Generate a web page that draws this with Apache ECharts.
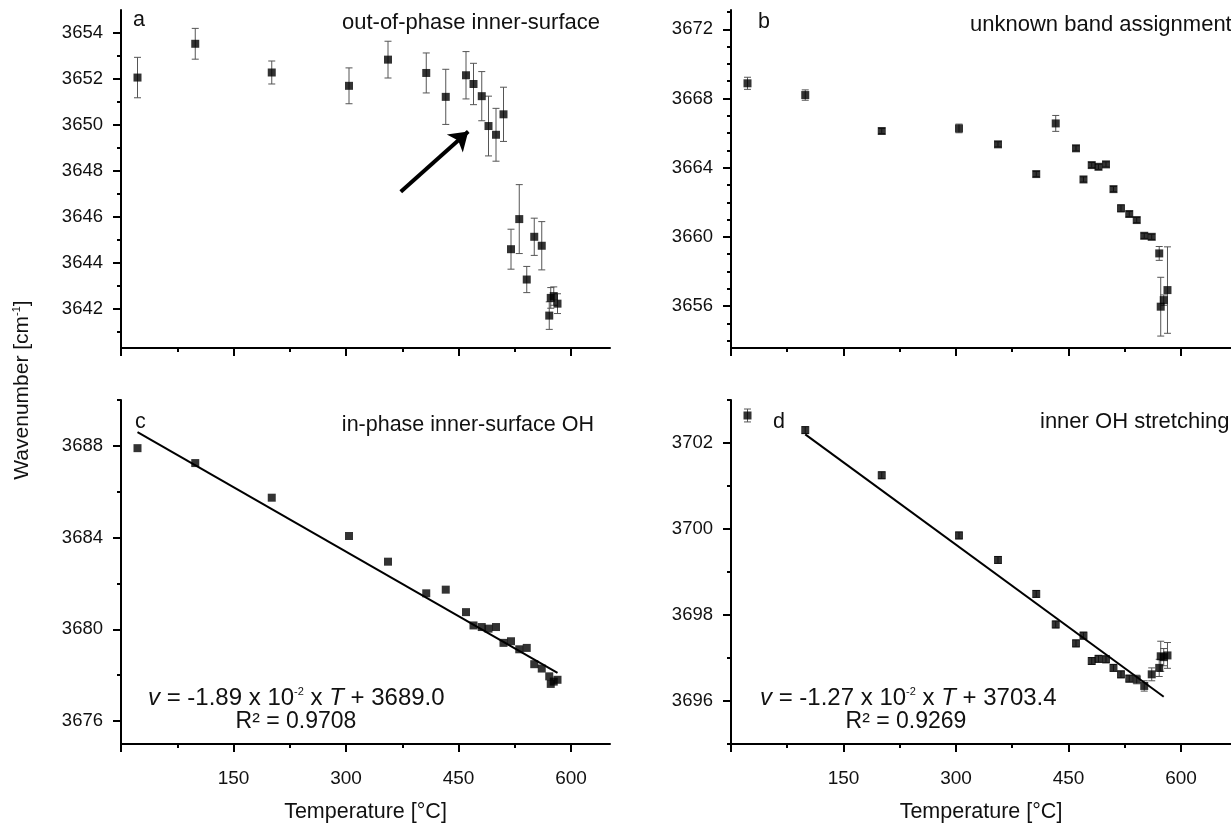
<!DOCTYPE html>
<html><head><meta charset="utf-8">
<script src="https://cdn.jsdelivr.net/npm/echarts@6/dist/echarts.min.js"></script>
<style>html,body{margin:0;padding:0;background:#fff}#c{width:1231px;height:824px}</style>
</head><body><div id="c"></div>
<script>
// ---- data ----
const temps = [22, 99, 201, 304, 356, 407, 433, 460, 470, 481, 490, 500, 510, 520, 531, 541, 551, 561, 571, 573, 577, 582];

const bandA = [3652.05, 3653.52, 3652.27, 3651.69, 3652.83, 3652.25, 3651.21, 3652.15, 3651.77, 3651.24, 3649.94, 3649.56, 3650.45, 3644.58, 3645.89, 3643.26, 3645.12, 3644.73, 3641.69, 3642.46, 3642.54, 3642.21];
const errA  = [0.88, 0.67, 0.5, 0.78, 0.8, 0.87, 1.2, 1.03, 0.9, 1.07, 1.3, 1.15, 1.18, 0.87, 1.5, 0.57, 0.81, 1.05, 0.6, 0.45, 0.4, 0.43];

const bandB = [3668.88, 3668.2, 3666.12, 3666.27, 3665.35, 3663.63, 3666.56, 3665.12, 3663.32, 3664.15, 3664.05, 3664.19, 3662.76, 3661.65, 3661.32, 3660.97, 3660.06, 3660.0, 3659.04, 3655.96, 3656.34, 3656.92];
const errB  = [0.35, 0.3, 0.15, 0.25, 0.15, 0.15, 0.46, 0.15, 0.15, 0.15, 0.15, 0.15, 0.15, 0.2, 0.15, 0.15, 0.15, 0.15, 0.4, 1.7, 0.3, 2.5];

const bandC = [3687.9, 3687.25, 3685.74, 3684.07, 3682.95, 3681.57, 3681.73, 3680.75, 3680.17, 3680.1, 3680.03, 3680.1, 3679.41, 3679.48, 3679.13, 3679.19, 3678.48, 3678.29, 3677.95, 3677.62, 3677.72, 3677.8];
const fitC  = [[22, 3688.6], [582, 3678.1]];

const bandD = [3702.64, 3702.3, 3701.25, 3699.85, 3699.28, 3698.49, 3697.78, 3697.34, 3697.52, 3696.93, 3696.98, 3696.97, 3696.77, 3696.62, 3696.52, 3696.5, 3696.35, 3696.62, 3696.77, 3697.04, 3697.02, 3697.06];
const errD  = [0.15, 0.08, 0.08, 0.08, 0.08, 0.08, 0.08, 0.08, 0.08, 0.08, 0.08, 0.08, 0.08, 0.08, 0.08, 0.1, 0.12, 0.15, 0.2, 0.35, 0.2, 0.3];
const fitD  = [[99, 3702.2], [577, 3696.1]];

const arrowA = [[373, 3647.08], [463, 3649.7]];

const xMajorTicks = [0, 150, 300, 450, 600];
const xMinorTicks = [75, 225, 375, 525];
const xLabels = [150, 300, 450, 600];

const yA = {major: [3642, 3644, 3646, 3648, 3650, 3652, 3654], minor: [3641, 3643, 3645, 3647, 3649, 3651, 3653, 3655]};
const yB = {major: [3656, 3660, 3664, 3668, 3672], minor: [3654, 3655, 3657, 3658, 3659, 3661, 3662, 3663, 3665, 3666, 3667, 3669, 3670, 3671, 3673]};
const yC = {major: [3676, 3680, 3684, 3688], minor: [3678, 3682, 3686, 3690]};
const yD = {major: [3696, 3698, 3700, 3702], minor: [3695, 3697, 3699, 3701, 3703]};

const labels = {
  a: 'out-of-phase inner-surface', b: 'unknown band assignment',
  c: 'in-phase inner-surface OH', d: 'inner OH stretching'
};
// ---- layout ----
const FONT = 'Liberation Sans, Arial, sans-serif';
const grids = [
  {left: 121, top: 10, width: 489, height: 338, xMax: 652, yMin: 3640.28, yMax: 3654.99, ticks: yA, xLab: false},
  {left: 731, top: 10, width: 500, height: 338, xMax: 666.7, yMin: 3653.57, yMax: 3673.12, ticks: yB, xLab: false},
  {left: 121, top: 400, width: 489, height: 346, xMax: 652, yMin: 3675, yMax: 3690, ticks: yC, xLab: true},
  {left: 731, top: 400, width: 500, height: 346, xMax: 666.7, yMin: 3695, yMax: 3703, ticks: yD, xLab: true}
];

const plain = v => String(v);
const xAxis = [], yAxis = [], grid = [];
grids.forEach((g, i) => {
  grid.push({left: g.left, top: g.top, width: g.width, height: g.height, containLabel: false});
  xAxis.push({
    type: 'value', gridIndex: i, position: 'bottom', min: 0, max: g.xMax,
    axisLine: {show: true, onZero: false, lineStyle: {color: '#000', width: 2}},
    axisTick: {show: true, customValues: xMajorTicks, length: 8, lineStyle: {color: '#000', width: 2}},
    axisLabel: {show: g.xLab, customValues: xLabels, formatter: plain, color: '#111', fontSize: 19, fontFamily: FONT, margin: 25},
    splitLine: {show: false},
    name: g.xLab ? 'Temperature [°C]' : '', nameLocation: 'middle', nameGap: 57,
    nameTextStyle: {color: '#111', fontSize: 21.5, fontFamily: FONT}
  });
  xAxis.push({
    type: 'value', gridIndex: i, position: 'bottom', min: 0, max: g.xMax,
    axisLine: {show: false}, axisLabel: {show: false}, splitLine: {show: false},
    axisTick: {show: true, customValues: xMinorTicks, length: 4, lineStyle: {color: '#000', width: 2}}
  });
  yAxis.push({
    type: 'value', gridIndex: i, position: 'left', min: g.yMin, max: g.yMax,
    axisLine: {show: true, onZero: false, lineStyle: {color: '#000', width: 2}},
    axisTick: {show: true, customValues: g.ticks.major, length: 8, lineStyle: {color: '#000', width: 2}},
    axisLabel: {show: true, customValues: g.ticks.major, formatter: plain, color: '#111', fontSize: 18.5, fontFamily: FONT, margin: 18},
    splitLine: {show: false}
  });
  yAxis.push({
    type: 'value', gridIndex: i, position: 'left', min: g.yMin, max: g.yMax,
    axisLine: {show: false}, axisLabel: {show: false}, splitLine: {show: false},
    axisTick: {show: true, customValues: g.ticks.minor, length: 4, lineStyle: {color: '#000', width: 2}}
  });
});

function errRender(params, api) {
  const x = api.value(0), lo = api.value(1), hi = api.value(2);
  const p1 = api.coord([x, hi]), p2 = api.coord([x, lo]);
  const w = 3.5;
  const st = {stroke: '#555', lineWidth: 1};
  return {type: 'group', children: [
    {type: 'line', shape: {x1: p1[0], y1: p1[1], x2: p2[0], y2: p2[1]}, style: st},
    {type: 'line', shape: {x1: p1[0] - w, y1: p1[1], x2: p1[0] + w, y2: p1[1]}, style: st},
    {type: 'line', shape: {x1: p2[0] - w, y1: p2[1], x2: p2[0] + w, y2: p2[1]}, style: st}
  ]};
}

const series = [];
function addPanel(i, vals, errs, fit) {
  if (errs) {
    series.push({type: 'custom', xAxisIndex: 2 * i, yAxisIndex: 2 * i, renderItem: errRender, clip: false,
      encode: {x: 0, y: [1, 2]}, z: 2, silent: true,
      data: temps.map((t, k) => [t, vals[k] - errs[k], vals[k] + errs[k]])});
  }
  series.push({type: 'scatter', xAxisIndex: 2 * i, yAxisIndex: 2 * i, symbol: 'rect', symbolSize: 8,
    itemStyle: {color: '#000'}, z: 3, silent: true,
    data: temps.map((t, k) => [t, vals[k]])});
  if (fit) {
    series.push({type: 'line', xAxisIndex: 2 * i, yAxisIndex: 2 * i, data: fit, showSymbol: false, symbol: 'none',
      lineStyle: {color: '#000', width: 2}, z: 4, silent: true});
  }
}
addPanel(0, bandA, errA, null);
addPanel(1, bandB, errB, null);
addPanel(2, bandC, null, fitC);
addPanel(3, bandD, errD, fitD);
series.push({type: 'lines', coordinateSystem: 'cartesian2d', xAxisIndex: 0, yAxisIndex: 0,
  symbol: ['none', 'arrow'], symbolSize: 18, silent: true,
  lineStyle: {color: '#000', width: 4, opacity: 1},
  data: [{coords: arrowA}]});

const txt = (x, y, text, opts) => Object.assign({type: 'text', x: x, y: y,
  style: Object.assign({text: text, fill: '#111', fontSize: 21.5, fontFamily: FONT, textVerticalAlign: 'middle'}, opts || {})});

const eqRich = {i: {fontStyle: 'italic', fontSize: 24, fontFamily: FONT}, s: {fontSize: 11, fontFamily: FONT, padding: [0, 0, 12, 0]}};
const graphic = [
  txt(133, 20, 'a'),
  txt(758, 22, 'b'),
  txt(135, 422, 'c'),
  txt(773, 422, 'd'),
  txt(600, 23, labels.a, {textAlign: 'right', fontSize: 22}),
  txt(970, 25, labels.b, {fontSize: 22}),
  txt(594, 425, labels.c, {textAlign: 'right'}),
  txt(1040, 422, labels.d, {fontSize: 22}),
  {type: 'text', x: 148, y: 698, style: {
    text: '{i|v} = -1.89 x 10{s|-2} x {i|T} + 3689.0', fontSize: 24, fontFamily: FONT, fill: '#111', textVerticalAlign: 'middle', rich: eqRich}},
  txt(296, 722, 'R² = 0.9708', {textAlign: 'center', fontSize: 23}),
  {type: 'text', x: 760, y: 698, style: {
    text: '{i|v} = -1.27 x 10{s|-2} x {i|T} + 3703.4', fontSize: 24, fontFamily: FONT, fill: '#111', textVerticalAlign: 'middle', rich: eqRich}},
  txt(906, 722, 'R² = 0.9269', {textAlign: 'center', fontSize: 23}),
  {type: 'text', x: 22, y: 390, rotation: Math.PI / 2, style: {
    text: 'Wavenumber [cm{s|-1}]', fontSize: 21, fontFamily: FONT, fill: '#111', textAlign: 'center', textVerticalAlign: 'middle',
    rich: {s: {fontSize: 11, fontFamily: FONT, padding: [0, 0, 11, 0]}}}}
];

const chart = echarts.init(document.getElementById('c'), null, {renderer: 'canvas'});
chart.setOption({animation: false, backgroundColor: '#fff', grid, xAxis, yAxis, series, graphic});
</script>
</body></html>
